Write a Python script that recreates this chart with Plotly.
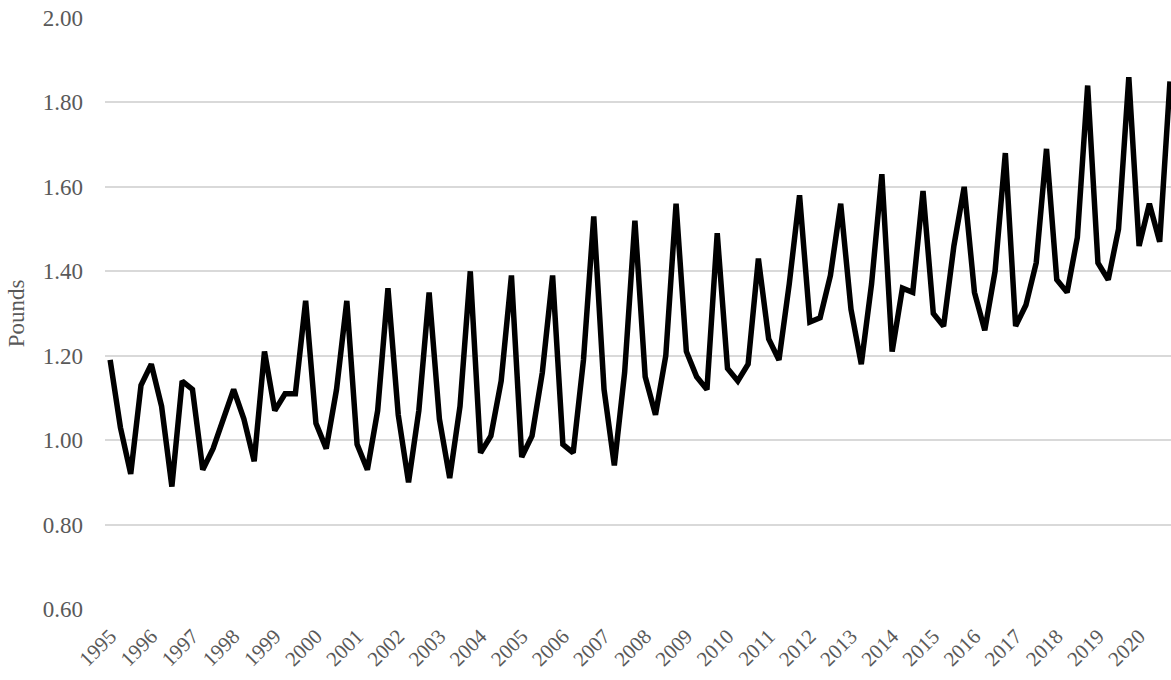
import plotly.graph_objects as go

years = list(range(1995, 2021))
quarters = [f"{y} Q{q}" for y in years for q in range(1, 5)]

pounds = [
    1.19, 1.03, 0.92, 1.13,   # 1995
    1.18, 1.08, 0.89, 1.14,   # 1996
    1.12, 0.93, 0.98, 1.05,   # 1997
    1.12, 1.05, 0.95, 1.21,   # 1998
    1.07, 1.11, 1.11, 1.33,   # 1999
    1.04, 0.98, 1.12, 1.33,   # 2000
    0.99, 0.93, 1.07, 1.36,   # 2001
    1.06, 0.90, 1.07, 1.35,   # 2002
    1.05, 0.91, 1.08, 1.40,   # 2003
    0.97, 1.01, 1.14, 1.39,   # 2004
    0.96, 1.01, 1.16, 1.39,   # 2005
    0.99, 0.97, 1.19, 1.53,   # 2006
    1.12, 0.94, 1.16, 1.52,   # 2007
    1.15, 1.06, 1.20, 1.56,   # 2008
    1.21, 1.15, 1.12, 1.49,   # 2009
    1.17, 1.14, 1.18, 1.43,   # 2010
    1.24, 1.19, 1.37, 1.58,   # 2011
    1.28, 1.29, 1.39, 1.56,   # 2012
    1.31, 1.18, 1.37, 1.63,   # 2013
    1.21, 1.36, 1.35, 1.59,   # 2014
    1.30, 1.27, 1.46, 1.60,   # 2015
    1.35, 1.26, 1.40, 1.68,   # 2016
    1.27, 1.32, 1.42, 1.69,   # 2017
    1.38, 1.35, 1.48, 1.84,   # 2018
    1.42, 1.38, 1.50, 1.86,   # 2019
    1.46, 1.56, 1.47, 1.85,   # 2020
]

tick_vals = quarters[::4]
tick_text = [str(y) for y in years]
y_ticks = [0.6, 0.8, 1.0, 1.2, 1.4, 1.6, 1.8, 2.0]

FONT = "Liberation Serif, Times New Roman, serif"
GREY = "#595959"

fig = go.Figure(
    go.Scatter(
        x=quarters,
        y=pounds,
        mode="lines",
        line=dict(color="#000000", width=5.5, shape="linear"),
        hoverinfo="x+y",
    )
)

fig.update_layout(
    width=1171,
    height=680,
    margin=dict(l=105, r=0, t=18, b=71, autoexpand=False),
    paper_bgcolor="white",
    plot_bgcolor="white",
    showlegend=False,
    font=dict(family=FONT, color=GREY, size=22),
)

fig.update_xaxes(
    type="category",
    categoryorder="array",
    categoryarray=quarters,
    range=[-0.5, len(quarters) - 0.9],
    tickmode="array",
    tickvals=tick_vals,
    ticktext=tick_text,
    tickangle=-45,
    showgrid=False,
    showline=False,
    zeroline=False,
    ticks="",
    automargin=False,
    ticklabelstandoff=10,
    tickfont=dict(family=FONT, color=GREY, size=21),
)

fig.update_yaxes(
    range=[0.6, 2.0],
    tickmode="array",
    tickvals=y_ticks,
    tickformat=".2f",
    showgrid=True,
    gridcolor="#d9d9d9",
    gridwidth=1.5,
    showline=False,
    zeroline=False,
    ticks="",
    automargin=False,
    ticklabelstandoff=21,
    tickfont=dict(family=FONT, color=GREY, size=23),
    title=dict(text="Pounds", font=dict(family=FONT, color=GREY, size=23), standoff=11),
)

fig.write_html(
    "out.html",
    config={"displayModeBar": False},
    post_script="document.body.style.margin='0';document.body.style.overflow='hidden';",
)
